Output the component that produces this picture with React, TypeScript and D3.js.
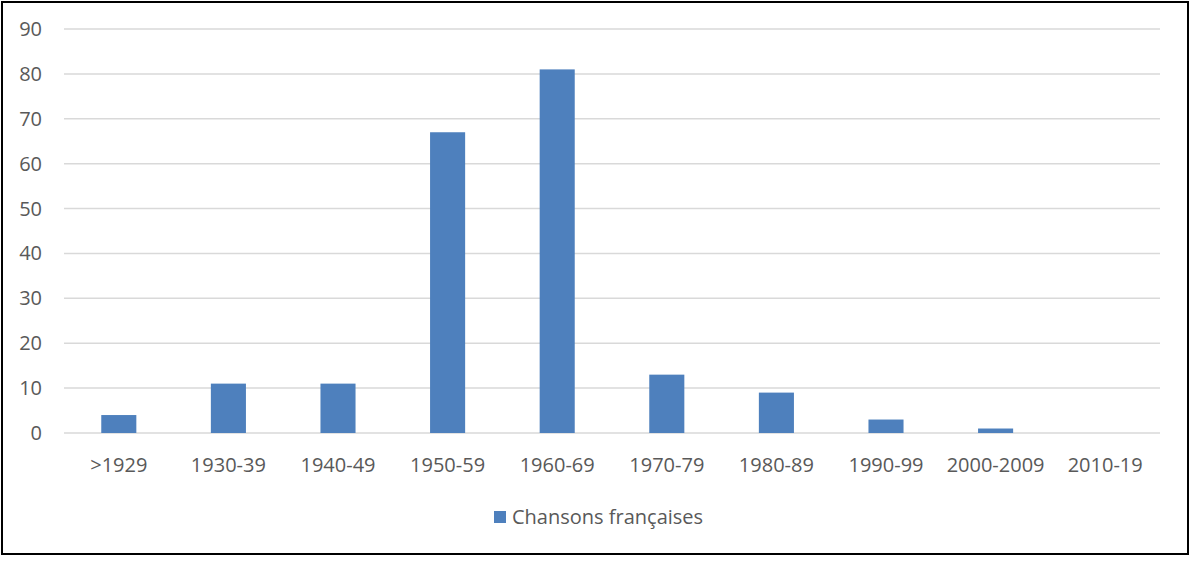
import { useEffect, useRef } from "react";
import * as d3 from "d3";

const categories = [
  ">1929",
  "1930-39",
  "1940-49",
  "1950-59",
  "1960-69",
  "1970-79",
  "1980-89",
  "1990-99",
  "2000-2009",
  "2010-19",
];
const values = [4, 11, 11, 67, 81, 13, 9, 3, 1, 0];
const yTicks = [0, 10, 20, 30, 40, 50, 60, 70, 80, 90];
const seriesName = "Chansons françaises";

const App = () => {
  const ref = useRef<SVGSVGElement>(null);

  useEffect(() => {
    document.body.style.margin = "0";
    if (!ref.current) return;

    const width = 1200;
    const marginLeft = 64;
    const marginRight = 40;
    const plotTop = 29;
    const plotBottom = 433;
    const font = "'Open Sans', sans-serif";
    const fontSize = 20;
    const textColor = "#595959";
    const barColor = "#4e80bd";

    const svg = d3.select(ref.current);
    svg.selectAll("*").remove();

    svg
      .append("rect")
      .attr("x", 2)
      .attr("y", 2)
      .attr("width", 1186)
      .attr("height", 552)
      .attr("fill", "white")
      .attr("stroke", "black")
      .attr("stroke-width", 2);

    const x = d3
      .scaleBand<string>()
      .domain(categories)
      .range([marginLeft, width - marginRight])
      .paddingInner(0.68)
      .paddingOuter(0.34);

    const y = d3.scaleLinear().domain([0, 90]).range([plotBottom, plotTop]);

    // gridlines
    svg
      .append("g")
      .selectAll("line")
      .data(yTicks)
      .join("line")
      .attr("x1", marginLeft)
      .attr("x2", width - marginRight)
      .attr("y1", (d) => y(d))
      .attr("y2", (d) => y(d))
      .attr("stroke", "#d9d9d9")
      .attr("stroke-width", 1.5);

    // y labels
    svg
      .append("g")
      .selectAll("text")
      .data(yTicks)
      .join("text")
      .attr("x", 42)
      .attr("y", (d) => y(d))
      .attr("dy", "0.35em")
      .attr("text-anchor", "end")
      .attr("font-family", font)
      .attr("font-size", fontSize)
      .attr("fill", textColor)
      .text((d) => d);

    // bars
    svg
      .append("g")
      .selectAll("rect")
      .data(values)
      .join("rect")
      .attr("x", (_, i) => x(categories[i]) ?? 0)
      .attr("y", (d) => y(d))
      .attr("width", x.bandwidth())
      .attr("height", (d) => y(0) - y(d))
      .attr("fill", barColor);

    // x labels
    svg
      .append("g")
      .selectAll("text")
      .data(categories)
      .join("text")
      .attr("x", (d) => (x(d) ?? 0) + x.bandwidth() / 2)
      .attr("y", 465)
      .attr("dy", "0.35em")
      .attr("text-anchor", "middle")
      .attr("font-family", font)
      .attr("font-size", fontSize)
      .attr("fill", textColor)
      .text((d) => d);

    // legend
    const legend = svg.append("g");
    legend
      .append("rect")
      .attr("x", 494)
      .attr("y", 511)
      .attr("width", 12)
      .attr("height", 12)
      .attr("fill", barColor);
    legend
      .append("text")
      .attr("x", 512)
      .attr("y", 517)
      .attr("dy", "0.35em")
      .attr("font-family", font)
      .attr("font-size", fontSize)
      .attr("fill", textColor)
      .text(seriesName);
  }, []);

  return <svg ref={ref} width={1200} height={569} style={{ display: "block" }} />;
};

export default App;
